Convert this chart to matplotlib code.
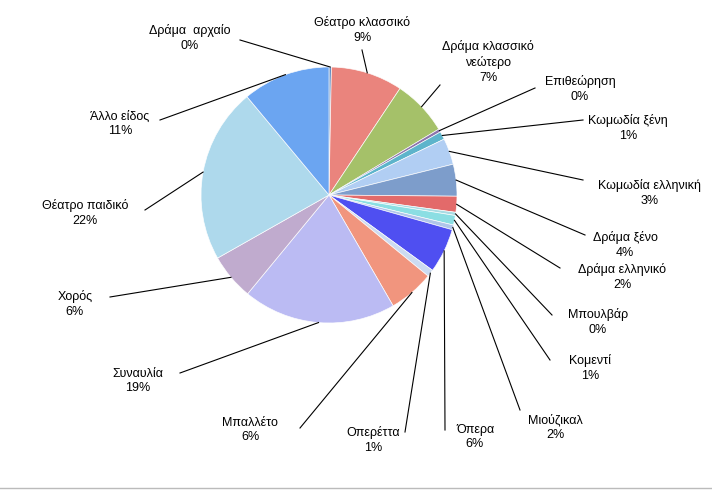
import numpy as np
import matplotlib.pyplot as plt

labels = ["Δράμα  αρχαίο", "Θέατρο κλασσικό", "Δράμα κλασσικό\nνεώτερο", "Επιθεώρηση",
          "Κωμωδία ξένη", "Κωμωδία ελληνική", "Δράμα ξένο", "Δράμα ελληνικό", "Μπουλβάρ",
          "Κομεντί", "Μιούζικαλ", "Όπερα", "Οπερέττα", "Μπαλλέτο", "Συναυλία", "Χορός",
          "Θέατρο παιδικό", "Άλλο είδος"]
values = [0.3, 9, 7, 0.4, 1, 3.3, 4, 2, 0.4, 1.2, 0.6, 5.6, 0.9, 5.7, 19.2, 5.8, 22, 11]
shown = ["0%", "9%", "7%", "0%", "1%", "3%", "4%", "2%", "0%", "1%", "2%", "6%", "1%",
         "6%", "19%", "6%", "22%", "11%"]
colors = ["#4f81bd", "#e8776f", "#9bbb59", "#8064a2", "#4bacc6", "#a9c9f2", "#6f93c6",
          "#e05a5a", "#9fd8e0", "#7fdbe0", "#a8c0e8", "#3c3cf0", "#c7d8f0", "#f08a70",
          "#b4b4f2", "#b9a2c9", "#a5d5ea", "#5b9bf0"]
# label text position (px) and the end of its leader line (px)
text_pos = [(190, 38), (362, 30), (488, 62), (580, 89), (628, 128), (650, 193), (625, 245),
            (622, 277), (598, 322), (590, 368), (555, 427), (475, 437), (373, 440),
            (250, 430), (138, 381), (75, 304), (85, 213), (120, 124)]
line_end = [(240, 40), (362, 50), (440, 85), (535, 88), (583, 120), (583, 180), (585, 235),
            (560, 268), (552, 315), (550, 360), (520, 410), (445, 430), (405, 432),
            (300, 428), (180, 373), (110, 297), (145, 210), (160, 120)]

H = 491
cx, cy, r = 329, H - 195, 128

fig = plt.figure(figsize=(7.12, 4.91), dpi=100)
ax = fig.add_axes([0, 0, 1, 1])
ax.set_xlim(0, 712)
ax.set_ylim(0, H)
ax.axis("off")

wedges, _ = ax.pie(values, colors=colors, startangle=90, counterclock=False,
                   center=(cx, cy), radius=r, frame=True,
                   wedgeprops=dict(edgecolor="white", linewidth=0.5, alpha=0.9))
ax.set_xlim(0, 712)
ax.set_ylim(0, H)
ax.set_aspect("equal")
ax.axis("off")

for w, lab, pct, tp, le in zip(wedges, labels, shown, text_pos, line_end):
    ang = np.deg2rad((w.theta1 + w.theta2) / 2)
    ex, ey = cx + r * np.cos(ang), cy + r * np.sin(ang)
    ax.plot([ex, le[0]], [ey, H - le[1]], color="black", lw=0.8)
    ax.text(tp[0], H - tp[1], lab + "\n" + pct, ha="center", va="center",
            fontsize=9, family="Liberation Sans", linespacing=1.3)

ax.plot([0, 712], [3, 3], color="#bbbbbb", lw=1)
fig.savefig("out.png", dpi=100)
